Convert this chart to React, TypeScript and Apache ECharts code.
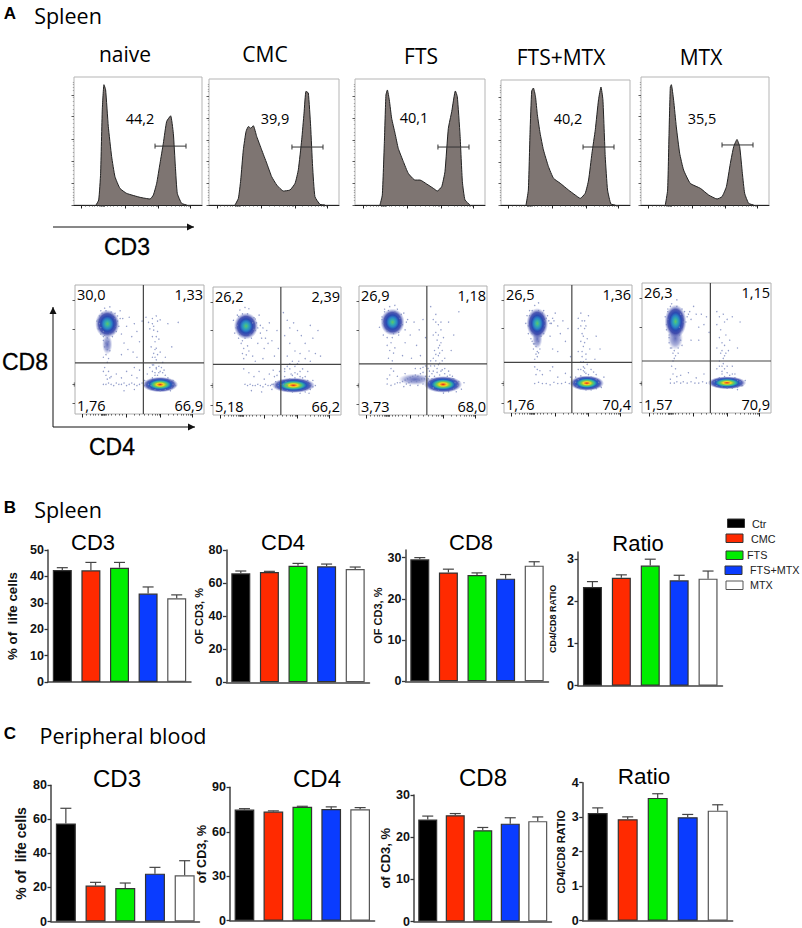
import React, { useEffect, useRef } from 'react';
import * as echarts from 'echarts';

const groups = ['Ctr', 'CMC', 'FTS', 'FTS+MTX', 'MTX'];
const groupColors = ['#000000', '#ff2a00', '#00ee00', '#0a3cff', '#ffffff'];
const histTitles = ['naive', 'CMC', 'FTS', 'FTS+MTX', 'MTX'];

// histogram outlines: [channel %, count %]
const histNaive = [[17.2,0],[19.3,3.9],[20.8,24.8],[22.1,74.4],[23.4,94],[24.7,90],[26.8,61.4],[29.4,37.9],[32,22.2],[35.9,13],[41.1,9.1],[51.6,6],[59.4,4.7],[62,7.8],[64.6,17],[67.2,32.6],[69.8,48.3],[72.4,65.3],[75.5,69.7],[77.6,56],[79.2,30],[80.7,9.1],[84.1,1.3],[88,0]];
const histCmc = [[20,0],[22.6,5.3],[24.4,19.9],[26.4,43.8],[28.5,58.4],[30.3,62.3],[32.1,61],[34.1,62.9],[36.7,54.4],[40.5,43.8],[44.4,33.2],[48.2,22.5],[52.1,15.9],[57.2,11.1],[62.3,11.9],[66.2,17.2],[68.7,27.9],[71.3,51.7],[73.1,72.9],[74.6,90.2],[76.4,88.9],[78.2,62.3],[79.7,30.5],[81.5,6.6],[85.4,0.5],[89.2,0]];
const histFts = [[19.2,0],[21,7.9],[22.6,50.3],[23.8,87.3],[24.9,91.3],[26.4,83.3],[28.2,68.8],[30.8,56.9],[33.3,44.9],[37.2,34.4],[41,25.1],[46.2,19.8],[50,19.8],[55.1,16.7],[60.3,13.2],[63.3,11.1],[66.7,14.6],[69.2,26.5],[71.8,60.8],[74.4,74.1],[77.2,90.5],[78.7,86],[80.8,55.6],[82.6,18.5],[84.6,4],[88.5,0]];
const histFtsMtx = [[19.4,0],[21.2,12],[22.5,57.8],[23.8,91.2],[25.1,93.6],[26.7,87],[28.2,72.2],[30.3,57.5],[32.9,44.1],[36.8,30.7],[40.7,21.4],[45.9,17.4],[52.3,12],[57.5,8],[61.4,5.3],[65.3,9.4],[67.9,20],[70.5,41.4],[73.1,60.2],[75.6,84.2],[77.5,94.4],[79,84.2],[80.8,38.8],[82.6,12],[85.2,0.8],[88.6,0]];
const histMtx = [[19,0],[20.8,11.7],[21.9,55.9],[22.9,92.2],[23.7,94],[25.5,81.8],[27.6,61],[30.2,40.5],[33.3,27.3],[38.5,16.9],[46.4,13],[52.9,7.8],[59.4,4.7],[63.3,6.5],[66.7,14.3],[69.8,32.5],[72.4,45.5],[75,51.2],[77.1,45.5],[79.2,24.7],[81,9.1],[84.1,1.3],[88,0]];
const histValues = ['44,2', '39,9', '40,1', '40,2', '35,5'];
const histGates = [[63.3,87.5,46],[63.8,87.7,46],[63.8,87.7,46],[63.6,87.6,46.4],[63.3,87.5,46.9]];

const tickMajor = [6, 40, 66, 91];
const tickMinor = [9,12,14,16,18,20,20.5,21,21.5,22,22.5,23,23.5,24,26,28,31,34,37,46,50,54,57,60,62,64,65,72,76,79,82,84,86,88,89,90];
const tickLeftMajor = [0, 17.3, 34.5, 51.7, 69, 86];
const tickLeftMinor = [3.5,6,8,10,12,14,21,24,27,30,32,38,41,44,47,50,55,58,61,64,67,72,75,78,81,84,90,92,94,96];
const dotTickLeft = [8, 23, 66, 88];

// quadrant plots
const dotVertical = [53, 53, 53, 53, 53];
const dotHorizontal = [39.6, 39.6, 39.6, 39.6, 40];
const dotTopLeft = ['30,0', '26,2', '26,9', '26,5', '26,3'];
const dotTopRight = ['1,33', '2,39', '1,18', '1,36', '1,15'];
const dotBottomLeft = ['1,76', '5,18', '3,73', '1,76', '1,57'];
const dotBottomRight = ['66,9', '66,2', '68,0', '70,4', '70,9'];

// density spots: cx, cy, rx, ry
const upperSpots = [[25.1,69.9,9.5,11],[25.8,69.5,9.5,10.5],[26.2,72,9.5,10.5],[26,70,8.5,12],[26,70.4,8.5,13]];
const lowerSpots = [[66,22.8,14,6],[62.8,23.2,17,6],[65.7,23.7,15,6.5],[64.7,23.3,13.5,6],[65.9,23.2,15,5]];
const extraSpots = [[[25,54,4,8]], [], [[43.6,27.6,13,4.5]], [[26,58,4,8]], [[25.8,57.5,6,9]]];

const dots1 = [[17,72],[18,66],[19,76],[20,62],[20,80],[22,60],[23,82],[27,83],[29,60],[31,78],[32,64],[33,72],[34,68],[35,80],[36,62],[22,57],[24,55],[26,56],[23,52],[25,50],[27,49],[24,46],[22,44],[26,43],[25,40],[23,36],[26,33],[24,30],[25,27],[22,33],[27,28],[37,74],[40,68],[42,75],[44,60],[46,70],[38,55],[41,50],[48,64],[50,56],[45,48],[52,72],[36,46],[48,44],[55,75],[57,71],[60,74],[63,76],[66,73],[58,66],[61,68],[64,64],[60,60],[62,56],[65,58],[59,52],[62,50],[64,46],[60,44],[63,42],[66,48],[61,38],[63,35],[65,32],[60,33],[67,36],[62,30],[69,34],[58,36],[70,44],[72,70],[80,71],[75,52],[22,23],[24,23],[26,24],[28,23],[30,22],[32,24],[34,23],[36,23],[38,24],[40,22],[42,23],[44,24],[46,23],[48,22],[50,23],[52,24],[28,29],[32,31],[36,28],[40,33],[44,30],[48,28],[50,34],[46,36],[54,26],[56,31],[38,18],[46,19],[76,26],[78,22],[74,18]];
const fringe1 = [[21,78],[24,80],[28,79],[31,74],[32,68],[30,63],[27,62],[22,64],[19,70],[18,73],[20,67],[23,61],[25,59],[29,77],[33,76],[35,74],[55,24],[57,23],[58,26],[60,28],[59,22],[62,32],[64,30],[66,33],[68,32],[70,30],[72,28],[74,26],[76,23],[75,20],[70,19],[66,18],[62,19],[58,20],[54,22],[63,36],[65,37],[68,40],[60,38],[61,47],[63,60],[61,65],[64,72],[60,70],[62,44],[63,51]];
const dots2 = [[16,74],[17,64],[19,78],[20,60],[21,82],[23,58],[25,84],[28,83],[30,60],[32,76],[33,66],[34,72],[36,78],[22,56],[24,52],[27,54],[23,48],[26,47],[24,44],[28,50],[31,46],[35,56],[38,60],[40,52],[42,66],[44,72],[46,58],[48,46],[50,66],[51,52],[37,70],[39,44],[33,42],[55,80],[58,74],[60,68],[63,72],[66,66],[69,62],[72,56],[75,50],[78,60],[56,62],[60,56],[64,50],[68,48],[72,44],[76,42],[80,48],[84,46],[58,46],[62,42],[66,40],[70,36],[74,34],[60,36],[64,33],[68,30],[56,34],[82,66],[76,70],[24,36],[28,33],[32,30],[36,34],[40,28],[44,32],[48,30],[52,34],[25,24],[27,23],[29,24],[31,23],[33,23],[35,24],[37,23],[39,22],[41,24],[43,23],[45,23],[47,24],[49,22],[51,23],[53,24],[30,19],[38,18],[46,20],[78,27],[80,23],[75,17]];
const fringe2 = [[20,77],[23,79],[27,79],[31,72],[32,67],[29,63],[25,60],[21,63],[19,70],[18,68],[33,75],[35,68],[37,64],[39,68],[41,60],[43,56],[46,24],[49,26],[51,25],[53,27],[55,24],[57,26],[58,23],[60,28],[62,31],[64,29],[66,32],[68,34],[70,29],[72,30],[74,27],[76,24],[78,22],[76,20],[72,18],[68,17],[62,18],[58,19],[54,20],[56,36],[58,38],[60,40],[64,38],[67,42],[61,32],[56,30],[47,35],[50,31]];
const dots3 = [[16,68],[18,76],[19,62],[20,82],[22,60],[24,84],[28,85],[31,62],[33,78],[34,70],[36,66],[38,74],[22,54],[25,56],[24,50],[27,48],[23,44],[26,42],[28,52],[25,36],[24,31],[22,28],[27,34],[36,56],[40,62],[43,72],[45,54],[47,66],[50,74],[41,44],[48,46],[52,60],[34,46],[56,84],[58,74],[60,78],[62,70],[64,66],[58,62],[61,58],[63,54],[66,60],[59,50],[62,46],[65,50],[60,42],[63,40],[67,44],[70,72],[74,62],[72,50],[78,80],[56,38],[58,34],[61,36],[64,34],[67,32],[70,34],[73,30],[55,30],[22,24],[25,23],[28,24],[30,25],[32,25],[34,26],[36,27],[37,24],[38,28],[39,25],[40,29],[41,26],[42,30],[43,27],[44,31],[45,26],[46,30],[47,27],[48,32],[49,28],[50,33],[51,28],[52,30],[53,27],[35,22],[40,23],[46,23],[50,24],[30,30],[36,32],[44,36],[50,37],[78,26],[80,20],[76,18],[82,25],[74,28]];
const fringe3 = [[20,80],[23,81],[28,80],[32,75],[33,70],[31,64],[27,63],[22,65],[19,71],[18,74],[35,79],[37,72],[30,82],[26,60],[55,34],[57,32],[59,30],[61,33],[63,31],[65,35],[67,36],[69,30],[71,31],[73,28],[75,25],[77,23],[74,20],[70,18],[66,17],[62,19],[58,21],[55,25],[57,28],[54,36],[56,42],[58,44],[60,47],[62,52],[63,48],[64,56],[60,64],[62,62],[64,72],[60,72],[59,38],[62,39],[65,42],[52,38],[54,28],[48,36]];
const dots4 = [[17,70],[18,76],[19,62],[20,80],[21,58],[24,84],[27,86],[29,60],[31,80],[32,72],[34,76],[36,70],[38,74],[40,78],[42,68],[22,56],[24,54],[27,56],[23,50],[26,48],[25,46],[28,50],[24,36],[26,34],[25,30],[28,33],[44,62],[46,72],[48,56],[50,66],[38,50],[42,48],[36,60],[52,44],[58,74],[60,78],[63,72],[66,76],[58,66],[61,62],[64,68],[60,56],[62,52],[65,58],[58,48],[61,44],[64,46],[67,50],[60,40],[62,36],[65,38],[58,34],[63,32],[68,34],[72,60],[75,50],[71,42],[24,23],[27,24],[30,23],[33,23],[36,22],[39,24],[42,23],[45,23],[48,24],[51,23],[54,24],[30,30],[36,33],[42,28],[48,31],[52,28],[38,36],[78,28],[76,20],[72,30],[56,28]];
const fringe4 = [[20,76],[22,80],[27,80],[30,78],[32,68],[31,62],[28,60],[22,62],[19,68],[33,74],[35,72],[37,70],[39,72],[23,54],[25,52],[27,47],[24,42],[26,44],[56,24],[58,26],[60,29],[62,33],[64,31],[66,30],[68,28],[70,32],[72,26],[74,24],[75,21],[72,19],[68,18],[64,18],[60,19],[57,21],[62,40],[63,35],[60,34],[64,42],[61,48],[63,55],[62,60],[60,68],[63,66],[61,72]];
const dots5 = [[18,74],[19,64],[20,80],[21,58],[23,84],[27,87],[29,66],[31,80],[32,74],[34,70],[36,76],[38,72],[40,82],[42,76],[44,66],[23,50],[25,48],[28,50],[24,46],[26,44],[25,42],[23,36],[26,34],[24,30],[27,28],[22,26],[46,76],[48,68],[50,74],[44,56],[38,56],[52,62],[58,78],[60,74],[63,76],[66,72],[70,74],[58,68],[61,64],[64,70],[60,58],[62,54],[65,60],[68,56],[58,50],[61,46],[64,44],[67,48],[60,40],[63,38],[66,36],[58,34],[62,32],[70,36],[74,50],[76,70],[72,30],[22,23],[25,23],[27,24],[30,23],[32,24],[35,23],[38,24],[41,23],[44,23],[47,24],[50,23],[53,24],[30,29],[36,31],[42,27],[48,30],[80,25],[78,21],[74,18]];
const fringe5 = [[20,78],[22,82],[27,82],[30,76],[32,70],[31,64],[29,60],[21,60],[19,68],[20,72],[33,78],[35,74],[37,78],[22,50],[28,46],[30,56],[21,54],[31,52],[24,40],[56,24],[58,25],[60,27],[62,30],[64,28],[66,31],[68,29],[70,30],[72,27],[74,25],[76,24],[77,21],[74,20],[70,19],[66,19],[62,20],[58,21],[62,36],[64,34],[60,36],[63,42],[65,46],[62,48],[64,52]];
const dotLists = [[...dots1, ...fringe1], [...dots2, ...fringe2], [...dots3, ...fringe3], [...dots4, ...fringe4], [...dots5, ...fringe5]];

// bar values, mean and top of the error bar
const spleenCd3 = [42.4, 42.3, 43.3, 33.5, 31.7];
const spleenCd3Top = [43.3, 45.3, 45.3, 36, 33];
const spleenCd4 = [65.9, 66.7, 70.5, 70.1, 68.5];
const spleenCd4Top = [67.3, 67.1, 71.9, 71.5, 69.7];
const spleenCd8 = [29.6, 26.4, 25.8, 24.9, 28.05];
const spleenCd8Top = [30, 27.2, 26.3, 25.9, 29];
const spleenRatio = [2.33, 2.55, 2.84, 2.49, 2.53];
const spleenRatioTop = [2.46, 2.62, 2.99, 2.61, 2.71];
const bloodCd3 = [57.6, 21.1, 19.7, 28.1, 27.1];
const bloodCd3Top = [66.5, 23, 22.6, 31.8, 35.7];
const bloodCd4 = [75, 73.6, 76.8, 75.4, 75.2];
const bloodCd4Top = [75.6, 74.1, 77.2, 76.8, 76.3];
const bloodCd8 = [24.2, 25.2, 21.65, 23.2, 23.8];
const bloodCd8Top = [25, 25.6, 22.3, 24.6, 24.8];
const bloodRatio = [3.12, 2.94, 3.56, 3.0, 3.19];
const bloodRatioTop = [3.27, 3.01, 3.68, 3.08, 3.36];

const ARIAL = '"Liberation Sans", Arial, sans-serif';
const OPEN = '"Open Sans", sans-serif';

const histBoxes = [[74,77,128,128],[209,79,130,126],[355,79,130,126],[501,80,129,125],[641,77,128,128]];
const dotBoxes = [[75,285,129,129],[213,287,128,128],[359,286,128,129],[504,285,128,128],[642,283,129,130]];

const barPanels = [
  { title: 'CD3', tx: 93, ty: 542, ts: 22, box: [48,550,143,132], max: 50, ticks: [0,10,20,30,40,50], mean: spleenCd3, top: spleenCd3Top, name: '% of  life cells', ns: 13.3, gap: 29, bw: 19 },
  { title: 'CD4', tx: 283, ty: 542, ts: 22, box: [226.5,550,143,132.3], max: 80, ticks: [0,20,40,60,80], mean: spleenCd4, top: spleenCd4Top, name: 'OF CD3, %', ns: 11, gap: 22, bw: 19 },
  { title: 'CD8', tx: 471, ty: 542, ts: 22, box: [405.5,550,143,131.3], max: 31.85, ticks: [0,10,20,30], mean: spleenCd8, top: spleenCd8Top, name: 'OF CD3, %', ns: 11, gap: 18.5, bw: 19 },
  { title: 'Ratio', tx: 638, ty: 543, ts: 22, box: [578,552,144.5,133.7], max: 3.16, ticks: [0,1,2,3], mean: spleenRatio, top: spleenRatioTop, name: 'CD4/CD8 RATIO', ns: 9, gap: 21, bw: 19 },
  { title: 'CD3', tx: 117, ty: 778, ts: 24, box: [51,785.3,148.5,136.7], max: 80, ticks: [0,20,40,60,80], mean: bloodCd3, top: bloodCd3Top, name: '% of  life cells', ns: 14, gap: 23.5, bw: 20 },
  { title: 'CD4', tx: 317, ty: 778, ts: 24, box: [230,787.3,144.6,133.4], max: 90, ticks: [0,30,60,90], mean: bloodCd4, top: bloodCd4Top, name: 'of CD3, %', ns: 12.5, gap: 18, bw: 19.7 },
  { title: 'CD8', tx: 483, ty: 777, ts: 24, box: [414,795,137.5,127], max: 30, ticks: [0,10,20,30], mean: bloodCd8, top: bloodCd8Top, name: 'of CD3, %', ns: 13, gap: 19, bw: 19 },
  { title: 'Ratio', tx: 644, ty: 776, ts: 22.5, box: [582.7,782.7,150,138], max: 4, ticks: [0,1,2,3,4], mean: bloodRatio, top: bloodRatioTop, name: 'CD4/CD8 RATIO', ns: 11, gap: 16.5, bw: 20 },
];

const legendSwatches = [[727.5,519],[726,534],[726,551],[725,566],[726,581]];
const legendText = [[752,524],[751,539],[747,555],[750,570],[750,585]];

const upperGlow = [[0,'#62c564'],[0.16,'#36b3a6'],[0.34,'#2a86c6'],[0.52,'#2a49b2'],[0.72,'rgba(50,62,165,0.85)'],[1,'rgba(120,130,200,0)']];
const lowerGlow = [[0,'#e51f1f'],[0.1,'#f08020'],[0.2,'#f6d81e'],[0.32,'#7ccb4c'],[0.45,'#2fb0a8'],[0.6,'#2457be'],[0.78,'rgba(48,60,165,0.8)'],[1,'rgba(120,130,200,0)']];
const faintGlow = [[0,'rgba(48,62,165,0.75)'],[0.6,'rgba(70,82,175,0.45)'],[1,'rgba(120,130,200,0)']];

const glow = (stops: any[]) =>
  new echarts.graphic.RadialGradient(0.5, 0.5, 0.5, stops.map(([offset, color]) => ({ offset, color })));

const txt = (x: number, y: number, text: string, size: number, extra: any = {}) => ({
  type: 'text', x, y, silent: true,
  style: { text, fontSize: size, fontFamily: ARIAL, fill: '#000', align: 'center', verticalAlign: 'middle', ...extra },
});

const arrow = (x1: number, y1: number, x2: number, y2: number) => {
  const up = x1 === x2;
  const head = up
    ? [[x2 - 3.5, y2 + 7], [x2, y2], [x2 + 3.5, y2 + 7]]
    : [[x2 - 7, y2 - 3.5], [x2, y2], [x2 - 7, y2 + 3.5]];
  return [
    { type: 'line', shape: { x1, y1, x2, y2 }, style: { stroke: '#111', lineWidth: 1 } },
    { type: 'polygon', shape: { points: head }, style: { fill: '#111' } },
  ];
};

function buildOption() {
  const grid: any[] = [];
  const xAxis: any[] = [];
  const yAxis: any[] = [];
  const series: any[] = [];
  const graphic: any[] = [];

  const pairAxes = (g: number, major: number[], minor: number[], left: number[], leftMinor: number[], line: boolean) => {
    const xi = xAxis.length;
    const yi = yAxis.length;
    const base = { type: 'value', min: 0, max: 100, gridIndex: g, splitLine: { show: false }, axisLabel: { show: false } };
    xAxis.push({ ...base, position: 'bottom', axisLine: { show: line, onZero: false, lineStyle: { color: '#222', width: 1 } }, axisTick: { show: true, length: 3.5, customValues: major, lineStyle: { color: '#222', width: 1 } } });
    xAxis.push({ ...base, position: 'bottom', axisLine: { show: false, onZero: false }, axisTick: { show: true, length: 1.6, customValues: minor, lineStyle: { color: '#333', width: 0.7 } } });
    yAxis.push({ ...base, position: 'left', axisLine: { show: false, onZero: false }, axisTick: { show: true, length: 2.5, customValues: left, lineStyle: { color: '#333', width: 0.8 } } });
    yAxis.push({ ...base, position: 'left', axisLine: { show: false, onZero: false }, axisTick: { show: true, length: 1.2, customValues: leftMinor, lineStyle: { color: '#666', width: 0.5 } } });
    return [xi, yi];
  };

  // histograms
  [histNaive, histCmc, histFts, histFtsMtx, histMtx].forEach((curve, i) => {
    const [l, t, w, h] = histBoxes[i];
    const g = grid.length;
    grid.push({ left: l, top: t, width: w, height: h, show: true, borderColor: '#b5b5b5', borderWidth: 1, backgroundColor: '#fff' });
    const [xi, yi] = pairAxes(g, tickMajor, tickMinor, tickLeftMajor, tickLeftMinor, true);
    series.push({
      type: 'line', xAxisIndex: xi, yAxisIndex: yi, data: curve, showSymbol: false, smooth: 0.15,
      lineStyle: { color: '#222', width: 1 }, areaStyle: { color: '#7e7572', opacity: 1 },
    });
    series.push({
      type: 'custom', xAxisIndex: xi, yAxisIndex: yi, z: 4, data: [histGates[i]], encode: { x: [0, 1], y: 2 },
      renderItem: (_: any, api: any) => {
        const a = api.coord([api.value(0), api.value(2)]);
        const b = api.coord([api.value(1), api.value(2)]);
        const line = (x1: number, y1: number, x2: number, y2: number) => ({
          type: 'line', shape: { x1, y1, x2, y2 }, style: { stroke: '#333', lineWidth: 1 },
        });
        return { type: 'group', children: [line(a[0], a[1], b[0], b[1]), line(a[0], a[1] - 2.5, a[0], a[1] + 2.5), line(b[0], b[1] - 2.5, b[0], b[1] + 2.5)] };
      },
    });
  });

  // quadrant density plots
  dotLists.forEach((dots, i) => {
    const [l, t, w, h] = dotBoxes[i];
    const g = grid.length;
    grid.push({ left: l, top: t, width: w, height: h, show: true, borderColor: '#b0b0b0', borderWidth: 1, backgroundColor: '#fff' });
    const [xi, yi] = pairAxes(g, tickMajor, tickMinor, dotTickLeft, [21.5, 22, 22.5, 23.5, 24, 24.5], false);
    const blobs = [
      ...extraSpots[i].map((s) => ({ s, fill: glow(faintGlow) })),
      { s: upperSpots[i], fill: glow(upperGlow) },
      { s: lowerSpots[i], fill: glow(lowerGlow) },
    ];
    series.push({
      type: 'custom', xAxisIndex: xi, yAxisIndex: yi, z: 2, data: blobs.map((b) => b.s), encode: { x: 0, y: 1 },
      renderItem: (p: any, api: any) => {
        const c = api.coord([api.value(0), api.value(1)]);
        const r = api.size([api.value(2), api.value(3)]);
        return { type: 'ellipse', shape: { cx: c[0], cy: c[1], rx: r[0], ry: r[1] }, style: { fill: blobs[p.dataIndex].fill } };
      },
    });
    series.push({
      type: 'scatter', xAxisIndex: xi, yAxisIndex: yi, z: 3, data: dots, symbolSize: 1.4,
      itemStyle: { color: '#7784bd', opacity: 0.8 },
    });
    const v = dotVertical[i];
    const hz = dotHorizontal[i];
    series.push({ type: 'line', xAxisIndex: xi, yAxisIndex: yi, z: 4, data: [[v, 0], [v, 100]], showSymbol: false, lineStyle: { color: '#444', width: 1.2 } });
    series.push({ type: 'line', xAxisIndex: xi, yAxisIndex: yi, z: 4, data: [[0, hz], [100, hz]], showSymbol: false, lineStyle: { color: '#444', width: 1.2 } });
  });

  // bar panels
  barPanels.forEach((p) => {
    const [l, t, w, h] = p.box;
    const g = grid.length;
    grid.push({ left: l, top: t, width: w, height: h });
    xAxis.push({
      type: 'category', gridIndex: g, data: groups,
      axisLine: { lineStyle: { color: '#444', width: 1.5 } },
      axisTick: { alignWithLabel: true, length: 3.5, lineStyle: { color: '#444', width: 1.2 } },
      axisLabel: { show: false },
    });
    yAxis.push({
      type: 'value', gridIndex: g, min: 0, max: p.max, splitLine: { show: false },
      name: p.name, nameLocation: 'middle', nameRotate: 90, nameGap: p.gap,
      nameTextStyle: { fontFamily: ARIAL, fontWeight: 'bold', fontSize: p.ns, color: '#111' },
      axisLine: { show: true, lineStyle: { color: '#444', width: 1.5 } },
      axisTick: { show: true, length: 3.5, customValues: p.ticks, lineStyle: { color: '#333', width: 1.3 } },
      axisLabel: { customValues: p.ticks, fontFamily: ARIAL, fontWeight: 'bold', fontSize: 12.5, color: '#111', margin: 4 },
    });
    const xi = xAxis.length - 1;
    const yi = yAxis.length - 1;
    series.push({
      type: 'bar', xAxisIndex: xi, yAxisIndex: yi, barWidth: p.bw,
      data: p.mean.map((value, k) => ({
        value,
        itemStyle: { color: groupColors[k], borderColor: k === 4 ? '#555' : '#333', borderWidth: 1.2 },
      })),
    });
    series.push({
      type: 'custom', xAxisIndex: xi, yAxisIndex: yi, z: 3, encode: { x: 0, y: [1, 2] },
      data: p.mean.map((m, k) => [k, m, p.top[k]]),
      renderItem: (_: any, api: any) => {
        const a = api.coord([api.value(0), api.value(1)]);
        const b = api.coord([api.value(0), api.value(2)]);
        const stroke = { stroke: '#444', lineWidth: 1.2 };
        return {
          type: 'group',
          children: [
            { type: 'line', shape: { x1: a[0], y1: a[1], x2: b[0], y2: b[1] }, style: stroke },
            { type: 'line', shape: { x1: b[0] - 5.5, y1: b[1], x2: b[0] + 5.5, y2: b[1] }, style: stroke },
          ],
        };
      },
    });
    graphic.push(txt(p.tx, p.ty, p.title, p.ts));
  });

  // letters and headings
  graphic.push(txt(10, 13, 'A', 17, { fontWeight: 'bold' }));
  graphic.push(txt(68, 15, 'Spleen', 21.5, { fontFamily: OPEN }));
  graphic.push(txt(10, 507, 'B', 17, { fontWeight: 'bold' }));
  graphic.push(txt(68, 509, 'Spleen', 21.5, { fontFamily: OPEN }));
  graphic.push(txt(10, 733, 'C', 17, { fontWeight: 'bold' }));
  graphic.push(txt(123, 735, 'Peripheral blood', 21.5, { fontFamily: OPEN }));

  const histHead = [[125, 54], [265, 54], [421, 56], [561, 57], [701, 57]];
  const histLabel = [[140, 118], [275, 118], [414, 117], [568, 118], [702, 118]];
  histTitles.forEach((t, i) => {
    graphic.push(txt(histHead[i][0], histHead[i][1], t, 21, { fontFamily: OPEN }));
    graphic.push(txt(histLabel[i][0], histLabel[i][1], histValues[i], 14.5, { fontFamily: OPEN }));
  });

  dotBoxes.forEach(([l, t, w, h], i) => {
    const corner = { fontFamily: OPEN };
    graphic.push(txt(l + 2, t + 9, dotTopLeft[i], 14.5, { ...corner, align: 'left' }));
    graphic.push(txt(l + w - 1, t + 9, dotTopRight[i], 14.5, { ...corner, align: 'right' }));
    graphic.push(txt(l + 2, t + h - 9, dotBottomLeft[i], 14.5, { ...corner, align: 'left' }));
    graphic.push(txt(l + w - 1, t + h - 9, dotBottomRight[i], 14.5, { ...corner, align: 'right' }));
  });

  const heavy = { stroke: '#000', lineWidth: 0.3 };
  graphic.push(...arrow(53, 227, 194, 227));
  graphic.push(txt(127, 247, 'CD3', 23, heavy));
  graphic.push(...arrow(53, 427, 53, 307));
  graphic.push(...arrow(53, 427, 195, 427));
  graphic.push(txt(25, 362, 'CD8', 23, heavy));
  graphic.push(txt(112, 447, 'CD4', 23, heavy));

  // legend, its boxes sit a little unevenly in the picture
  groups.forEach((name, i) => {
    graphic.push({
      type: 'rect',
      shape: { x: legendSwatches[i][0], y: legendSwatches[i][1], width: 17, height: 8.5 },
      style: { fill: groupColors[i], stroke: i === 4 ? '#555' : '#333', lineWidth: 1 },
    });
    graphic.push(txt(legendText[i][0], legendText[i][1], name, 10.8, { align: 'left', fill: '#222' }));
  });

  return { animation: false, backgroundColor: '#fff', grid, xAxis, yAxis, series, graphic };
}

const App: React.FC = () => {
  const chartRef = useRef<HTMLDivElement>(null);

  useEffect(() => {
    document.body.style.margin = '0';
    if (!chartRef.current) return;
    const chart = echarts.init(chartRef.current, undefined, { renderer: 'svg' });
    chart.setOption(buildOption() as any);
    return () => chart.dispose();
  }, []);

  return <div ref={chartRef} style={{ width: 802, height: 928 }} />;
};

export default App;
